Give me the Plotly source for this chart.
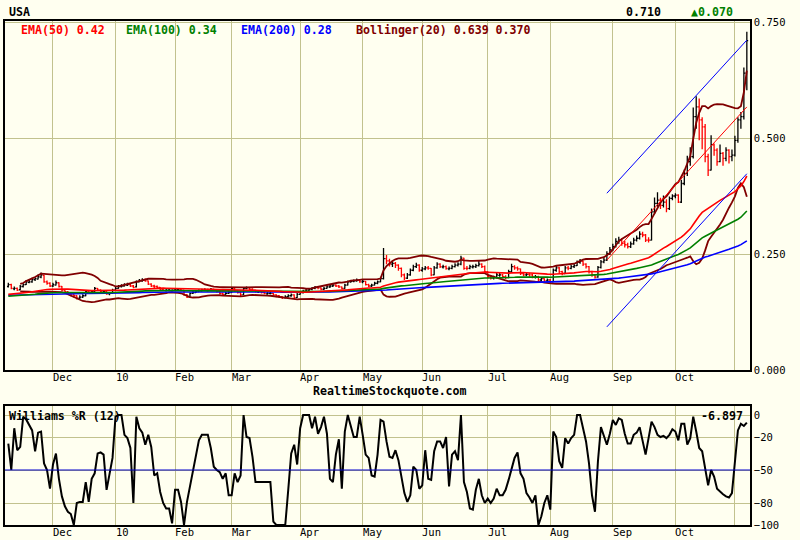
import numpy as np
import pandas as pd
import plotly.graph_objects as go

# ---------------- data ----------------
month_labels = ["Dec", "10", "Feb", "Mar", "Apr", "May", "Jun", "Jul", "Aug", "Sep", "Oct", ""]
month_counts = [15, 21, 20, 19, 23, 21, 20, 22, 21, 21, 21, 20, 5]  # trading bars per month, Nov-09 .. Nov-10

close = [
    0.184, 0.176, 0.176, 0.172, 0.180, 0.184, 0.190, 0.190, 0.195, 0.197,
    0.201, 0.205, 0.190, 0.187, 0.181, 0.184, 0.188, 0.180, 0.172, 0.169,
    0.165, 0.162, 0.160, 0.155, 0.157, 0.160, 0.169, 0.167, 0.169, 0.176,
    0.172, 0.169, 0.169, 0.164, 0.165, 0.172, 0.176, 0.180, 0.181, 0.184,
    0.184, 0.181, 0.178, 0.190, 0.192, 0.194, 0.192, 0.185, 0.181, 0.180,
    0.178, 0.174, 0.172, 0.172, 0.172, 0.172, 0.174, 0.174, 0.172, 0.162,
    0.157, 0.165, 0.167, 0.169, 0.171, 0.172, 0.172, 0.172, 0.174, 0.172,
    0.169, 0.165, 0.163, 0.165, 0.167, 0.176, 0.170, 0.167, 0.162, 0.176,
    0.177, 0.174, 0.172, 0.169, 0.169, 0.167, 0.165, 0.165, 0.165, 0.162,
    0.160, 0.158, 0.156, 0.158, 0.160, 0.162, 0.156, 0.163, 0.167, 0.170,
    0.172, 0.174, 0.176, 0.178, 0.177, 0.174, 0.176, 0.179, 0.181, 0.183,
    0.181, 0.179, 0.176, 0.183, 0.190, 0.191, 0.192, 0.193, 0.190, 0.191,
    0.184, 0.181, 0.183, 0.187, 0.190, 0.197, 0.240, 0.235, 0.228, 0.230,
    0.226, 0.219, 0.205, 0.198, 0.205, 0.215, 0.223, 0.226, 0.215, 0.218,
    0.220, 0.219, 0.205, 0.220, 0.228, 0.223, 0.223, 0.219, 0.219, 0.223,
    0.226, 0.228, 0.241, 0.219, 0.219, 0.223, 0.223, 0.225, 0.228, 0.223,
    0.212, 0.201, 0.198, 0.199, 0.205, 0.205, 0.201, 0.199, 0.212, 0.223,
    0.220, 0.218, 0.208, 0.205, 0.206, 0.205, 0.201, 0.201, 0.194, 0.197,
    0.192, 0.194, 0.190, 0.215, 0.220, 0.212, 0.208, 0.220, 0.219, 0.223,
    0.225, 0.232, 0.234, 0.228, 0.223, 0.212, 0.205, 0.200, 0.221, 0.233,
    0.237, 0.251, 0.259, 0.266, 0.277, 0.280, 0.273, 0.270, 0.266, 0.272,
    0.280, 0.284, 0.293, 0.291, 0.280, 0.280, 0.341, 0.359, 0.366, 0.355,
    0.362, 0.348, 0.370, 0.375, 0.377, 0.362, 0.402, 0.424, 0.449, 0.460,
    0.546, 0.567, 0.539, 0.524, 0.460, 0.431, 0.485, 0.474, 0.449, 0.467,
    0.456, 0.474, 0.460, 0.463, 0.495, 0.539, 0.546, 0.640, 0.710,
]
open_ = [
    0.180, 0.184, 0.175, 0.176, 0.173, 0.180, 0.184, 0.189, 0.190, 0.195,
    0.196, 0.200, 0.204, 0.190, 0.187, 0.181, 0.183, 0.188, 0.180, 0.172,
    0.169, 0.165, 0.162, 0.160, 0.155, 0.157, 0.160, 0.169, 0.167, 0.169,
    0.176, 0.172, 0.168, 0.169, 0.164, 0.165, 0.172, 0.176, 0.180, 0.181,
    0.183, 0.184, 0.181, 0.179, 0.190, 0.192, 0.194, 0.192, 0.185, 0.181,
    0.180, 0.178, 0.174, 0.171, 0.172, 0.171, 0.172, 0.173, 0.174, 0.172,
    0.162, 0.157, 0.165, 0.167, 0.169, 0.170, 0.172, 0.171, 0.172, 0.174,
    0.172, 0.169, 0.165, 0.163, 0.165, 0.167, 0.176, 0.170, 0.167, 0.162,
    0.176, 0.177, 0.174, 0.172, 0.168, 0.169, 0.167, 0.164, 0.165, 0.165,
    0.162, 0.160, 0.158, 0.156, 0.158, 0.160, 0.162, 0.156, 0.163, 0.167,
    0.170, 0.172, 0.174, 0.176, 0.178, 0.177, 0.174, 0.176, 0.179, 0.181,
    0.183, 0.181, 0.179, 0.176, 0.183, 0.190, 0.191, 0.192, 0.193, 0.190,
    0.191, 0.184, 0.181, 0.183, 0.187, 0.190, 0.197, 0.240, 0.235, 0.228,
    0.230, 0.226, 0.219, 0.205, 0.198, 0.205, 0.215, 0.223, 0.226, 0.215,
    0.218, 0.220, 0.219, 0.205, 0.220, 0.228, 0.222, 0.223, 0.218, 0.219,
    0.223, 0.226, 0.228, 0.241, 0.219, 0.219, 0.222, 0.223, 0.225, 0.228,
    0.223, 0.212, 0.201, 0.198, 0.199, 0.204, 0.205, 0.201, 0.199, 0.212,
    0.223, 0.220, 0.218, 0.208, 0.205, 0.206, 0.205, 0.200, 0.201, 0.194,
    0.197, 0.192, 0.194, 0.190, 0.215, 0.220, 0.212, 0.208, 0.220, 0.219,
    0.223, 0.225, 0.232, 0.234, 0.228, 0.223, 0.212, 0.205, 0.200, 0.221,
    0.233, 0.237, 0.251, 0.259, 0.266, 0.277, 0.280, 0.273, 0.270, 0.266,
    0.272, 0.280, 0.284, 0.293, 0.291, 0.280, 0.280, 0.341, 0.359, 0.366,
    0.355, 0.362, 0.348, 0.370, 0.375, 0.377, 0.362, 0.402, 0.424, 0.449,
    0.460, 0.546, 0.567, 0.539, 0.524, 0.460, 0.431, 0.485, 0.474, 0.449,
    0.467, 0.456, 0.474, 0.460, 0.463, 0.495, 0.539, 0.546, 0.640,
]
high = [
    0.188, 0.186, 0.180, 0.178, 0.183, 0.187, 0.194, 0.195, 0.199, 0.200,
    0.206, 0.210, 0.205, 0.193, 0.189, 0.188, 0.193, 0.189, 0.181, 0.174,
    0.170, 0.167, 0.164, 0.161, 0.161, 0.163, 0.172, 0.171, 0.172, 0.179,
    0.177, 0.174, 0.172, 0.170, 0.168, 0.175, 0.179, 0.183, 0.185, 0.187,
    0.188, 0.186, 0.183, 0.193, 0.196, 0.198, 0.197, 0.193, 0.187, 0.184,
    0.182, 0.179, 0.176, 0.175, 0.175, 0.174, 0.177, 0.177, 0.175, 0.173,
    0.164, 0.167, 0.170, 0.172, 0.174, 0.175, 0.176, 0.175, 0.177, 0.175,
    0.173, 0.170, 0.167, 0.168, 0.170, 0.179, 0.177, 0.172, 0.168, 0.178,
    0.180, 0.179, 0.176, 0.173, 0.172, 0.170, 0.168, 0.168, 0.168, 0.166,
    0.163, 0.161, 0.159, 0.161, 0.163, 0.165, 0.163, 0.166, 0.170, 0.173,
    0.175, 0.177, 0.179, 0.181, 0.181, 0.178, 0.179, 0.182, 0.184, 0.186,
    0.185, 0.183, 0.180, 0.186, 0.193, 0.194, 0.195, 0.197, 0.195, 0.194,
    0.192, 0.186, 0.186, 0.190, 0.193, 0.201, 0.263, 0.248, 0.240, 0.236,
    0.233, 0.228, 0.221, 0.208, 0.209, 0.219, 0.227, 0.231, 0.228, 0.222,
    0.224, 0.224, 0.220, 0.224, 0.232, 0.230, 0.227, 0.225, 0.223, 0.227,
    0.230, 0.232, 0.246, 0.242, 0.224, 0.227, 0.227, 0.229, 0.236, 0.230,
    0.225, 0.213, 0.204, 0.203, 0.209, 0.209, 0.207, 0.204, 0.216, 0.229,
    0.226, 0.223, 0.219, 0.211, 0.210, 0.209, 0.207, 0.205, 0.203, 0.200,
    0.198, 0.197, 0.196, 0.219, 0.224, 0.222, 0.214, 0.224, 0.224, 0.227,
    0.229, 0.236, 0.239, 0.236, 0.230, 0.224, 0.214, 0.207, 0.224, 0.237,
    0.242, 0.256, 0.265, 0.272, 0.284, 0.287, 0.284, 0.278, 0.274, 0.277,
    0.285, 0.290, 0.299, 0.298, 0.293, 0.286, 0.348, 0.372, 0.383, 0.371,
    0.376, 0.368, 0.374, 0.379, 0.381, 0.379, 0.410, 0.432, 0.462, 0.480,
    0.566, 0.590, 0.585, 0.545, 0.530, 0.466, 0.506, 0.488, 0.478, 0.486,
    0.470, 0.480, 0.476, 0.475, 0.505, 0.545, 0.556, 0.652, 0.729,
]
low = [
    0.178, 0.174, 0.172, 0.170, 0.172, 0.178, 0.183, 0.187, 0.188, 0.192,
    0.195, 0.198, 0.188, 0.184, 0.179, 0.179, 0.182, 0.178, 0.170, 0.166,
    0.162, 0.159, 0.156, 0.152, 0.153, 0.155, 0.159, 0.164, 0.165, 0.168,
    0.170, 0.167, 0.166, 0.162, 0.161, 0.164, 0.171, 0.175, 0.178, 0.180,
    0.181, 0.179, 0.176, 0.178, 0.189, 0.190, 0.190, 0.183, 0.179, 0.177,
    0.176, 0.172, 0.170, 0.169, 0.170, 0.169, 0.171, 0.172, 0.170, 0.160,
    0.155, 0.156, 0.164, 0.166, 0.168, 0.169, 0.170, 0.169, 0.171, 0.170,
    0.167, 0.163, 0.161, 0.162, 0.164, 0.166, 0.168, 0.165, 0.159, 0.161,
    0.174, 0.172, 0.170, 0.167, 0.166, 0.165, 0.163, 0.162, 0.163, 0.160,
    0.157, 0.155, 0.153, 0.154, 0.156, 0.158, 0.153, 0.155, 0.162, 0.165,
    0.168, 0.170, 0.172, 0.174, 0.174, 0.172, 0.172, 0.175, 0.177, 0.179,
    0.179, 0.177, 0.174, 0.175, 0.182, 0.188, 0.189, 0.190, 0.188, 0.187,
    0.182, 0.179, 0.179, 0.182, 0.185, 0.189, 0.195, 0.228, 0.223, 0.222,
    0.220, 0.214, 0.200, 0.194, 0.196, 0.203, 0.213, 0.220, 0.212, 0.212,
    0.215, 0.216, 0.202, 0.204, 0.218, 0.220, 0.219, 0.216, 0.215, 0.217,
    0.221, 0.223, 0.226, 0.216, 0.215, 0.217, 0.219, 0.220, 0.223, 0.220,
    0.209, 0.198, 0.195, 0.195, 0.197, 0.201, 0.198, 0.196, 0.198, 0.210,
    0.216, 0.214, 0.205, 0.202, 0.202, 0.201, 0.198, 0.197, 0.191, 0.192,
    0.189, 0.190, 0.186, 0.189, 0.212, 0.209, 0.204, 0.207, 0.215, 0.217,
    0.220, 0.224, 0.229, 0.224, 0.219, 0.208, 0.201, 0.197, 0.199, 0.219,
    0.230, 0.235, 0.248, 0.256, 0.264, 0.272, 0.268, 0.264, 0.262, 0.263,
    0.270, 0.277, 0.281, 0.286, 0.276, 0.275, 0.279, 0.336, 0.352, 0.347,
    0.350, 0.340, 0.345, 0.366, 0.370, 0.360, 0.360, 0.398, 0.418, 0.440,
    0.456, 0.520, 0.495, 0.476, 0.448, 0.418, 0.430, 0.462, 0.440, 0.448,
    0.440, 0.450, 0.445, 0.450, 0.460, 0.490, 0.520, 0.540, 0.603,
]
williams = [
    -26, -50, -12, -32, -29, -1.5, -4, -8.5, -14, -33,
    -16, -15, -44, -50, -67, -45, -35, -58, -74, -83,
    -88, -90, -100, -80, -79, -79, -61, -79, -58, -53,
    -35, -34, -36, -68, -55, -39, -1.5, 0, 0, -18,
    -21, -30, -80, -1.5, -12, -16, -27, -18, -29, -55,
    -53, -70, -80, -85, -85, -98.5, -68, -68, -79, -100,
    -79, -65, -50, -38, -23, -18, -18, -18, -30, -47,
    -50, -52, -58, -53, -73, -73, -53, -61, -55, 0,
    -20, -21, -38, -61, -61, -61, -61, -61, -61, -97,
    -100, -100, -100, -100, -68, -35, -27, -45, -12, 0,
    0, 0, -12, -1.5, -17, -11, -1.5, -17, -58, -61,
    -36, -22, -67, -15, 0, -11, -20, -20, -1.5, -18,
    -36, -39, -55, -56, -36, -4.5, -6, -24, -38, -39,
    -32, -41, -58, -71, -79, -73, -47, -50, -67, -64,
    -32, -58, -59, -33, -24, -24, -30, -20, -65, -36,
    -33, -41, 0, -61, -70, -85, -86, -68, -58, -73,
    -80, -76, -80, -76, -67, -73, -73, -68, -59, -50,
    -39, -34, -53, -58, -71, -75, -80, -73, -100, -92,
    -80, -73, -86, -15, -20, -42, -48, -21, -26, -21,
    -18, 0, 0, -12, -24, -44, -73, -88, -42, -11,
    -20, -27, -17, -4.5, -9, -3, -4.5, -17, -26, -26,
    -18, -16, -11, -24, -36, -21, -6, -11, -18, -20,
    -19, -21, -18, -13, -15, -23, -8, -8, -27, -21,
    -1.5, -15, -30, -33, -50, -64, -50, -56, -67, -70,
    -72, -74, -75, -71, -39, -14, -8, -10, -6.897,
]

ema_periods = [50, 100, 200]
ema_seeds = [0.163, 0.159, 0.161]          # indicator levels at the first bar
ema_colors = ["#FF0000", "#008000", "#0000FF"]
boll_period = 20
channel_start = 201                        # regression channel (Sep -> end)
channel_mid = [0.237, 0.567]
channel_half = 0.144

ticker = "USA"
last_price = "0.710"
last_change = "▲0.070"
legend_items = [("EMA(50) 0.42", "#FF0000", 19), ("EMA(100) 0.34", "#008000", 124),
                ("EMA(200) 0.28", "#0000FF", 239), ("Bollinger(20) 0.639 0.370", "#800000", 354)]
williams_label = "Williams %R (12)"
williams_last = "-6.897"

# ---------------- derived indicators ----------------
n = len(close)
x = np.arange(n)
cs = pd.Series(close)

def ema(values, period, seed):
    a = 2.0 / (period + 1)
    out = [seed]
    for v in values[1:]:
        out.append(out[-1] + a * (v - out[-1]))
    return out

emas = [ema(close, p, s) for p, s in zip(ema_periods, ema_seeds)]
bmid = cs.rolling(boll_period, min_periods=5).mean()
bsd = cs.rolling(boll_period, min_periods=5).std(ddof=0)
bup = bmid + 2 * bsd
blo = bmid - 2 * bsd

month_starts = list(np.cumsum(month_counts)[:-1])

# ---------------- figure ----------------
BG = "#FFFFF0"
GRID = "#C2C28E"
FONT = "DejaVu Sans Mono"

fig = go.Figure()
for band in (bup, blo):
    fig.add_trace(go.Scatter(x=x, y=band, mode="lines", line=dict(color="#800000", width=1.8),
                             xaxis="x", yaxis="y", hoverinfo="skip"))
for e, c in zip(emas[::-1], ema_colors[::-1]):
    fig.add_trace(go.Scatter(x=x, y=e, mode="lines", line=dict(color=c, width=1.6),
                             xaxis="x", yaxis="y", hoverinfo="skip"))
fig.add_trace(go.Ohlc(x=x, open=open_, high=high, low=low, close=close,
                      increasing=dict(line=dict(color="black", width=1.3)),
                      decreasing=dict(line=dict(color="#FF0000", width=1.3)),
                      tickwidth=0.45, xaxis="x", yaxis="y"))
cx = [channel_start, n - 1]
fig.add_trace(go.Scatter(x=cx, y=channel_mid, mode="lines", line=dict(color="#FF0000", width=1),
                         xaxis="x", yaxis="y"))
for sgn in (1, -1):
    fig.add_trace(go.Scatter(x=cx, y=[v + sgn * channel_half for v in channel_mid], mode="lines",
                             line=dict(color="#0000FF", width=1), xaxis="x", yaxis="y"))

fig.add_trace(go.Scatter(x=x, y=williams, mode="lines", line=dict(color="black", width=2),
                         xaxis="x2", yaxis="y2"))
fig.add_shape(type="line", xref="x2 domain", x0=0, x1=1, yref="y2", y0=-50, y1=-50,
              line=dict(color="#0000CC", width=1.2))

W, H = 800, 540
xr = [-1.11, 249.06]
xdom = [5 / W, 750 / W]
ax_common = dict(showgrid=True, gridcolor=GRID, gridwidth=1, zeroline=False,
                 showline=True, mirror=True, linecolor="black", linewidth=1.5, automargin=False)
fig.update_layout(
    width=W, height=H, margin=dict(l=0, r=0, t=0, b=0, pad=0, autoexpand=False),
    paper_bgcolor=BG, plot_bgcolor=BG, showlegend=False,
    font=dict(family=FONT, size=10, color="black"),
    xaxis=dict(domain=xdom, range=xr, anchor="y", tickvals=month_starts, showticklabels=False,
               ticks="", rangeslider=dict(visible=False), **ax_common),
    yaxis=dict(domain=[1 - 370 / H, 1 - 21 / H], range=[0, 0.7522], side="right", anchor="x",
               tickvals=[0, 0.25, 0.5, 0.75], tickformat=".3f", ticks="",
               tickfont=dict(family=FONT, size=10.5), **ax_common),
    xaxis2=dict(domain=xdom, range=xr, anchor="y2", tickvals=month_starts, showticklabels=False,
                ticks="", **ax_common),
    yaxis2=dict(domain=[1 - 525 / H, 1 - 406 / H], range=[-100, 8.2], side="right", anchor="x2",
                tickvals=[0, -20, -50, -80, -100], ticks="",
                tickfont=dict(family=FONT, size=10.5), **ax_common),
)

ann = []
def txt(t, xp, yp, color="black", size=11.6, bold=True, xanchor="left", xref="paper", xshift=0):
    ann.append(dict(text=f"<b>{t}</b>" if bold else t, x=xp, y=yp, xref=xref, yref="paper",
                    xanchor=xanchor, yanchor="middle", showarrow=False, xshift=xshift,
                    font=dict(family=FONT, size=size, color=color)))

txt(ticker, 7 / W, 1 - 12 / H)
txt(last_price, 624 / W, 1 - 12 / H)
txt(last_change, 689 / W, 1 - 12 / H, color="#008000")
for t, c, px in legend_items:
    txt(t, px / W, 1 - 30 / H, color=c)
txt("RealtimeStockquote.com", 390 / W, 1 - 391 / H, xanchor="center")
txt(williams_label, 7 / W, 1 - 416 / H)
txt(williams_last, 699 / W, 1 - 416 / H)
for ms, lab in zip(month_starts, month_labels):
    if lab:
        txt(lab, ms, 1 - 377 / H, size=10.5, bold=False, xref="x", xshift=-2)
        txt(lab, ms, 1 - 532 / H, size=10.5, bold=False, xref="x", xshift=-2)
fig.update_layout(annotations=ann)

fig.write_html(
    "out.html",
    config={"displayModeBar": False},
    post_script="document.body.style.margin='0';document.body.style.padding='0';"
                "document.documentElement.style.overflow='hidden';",
)
